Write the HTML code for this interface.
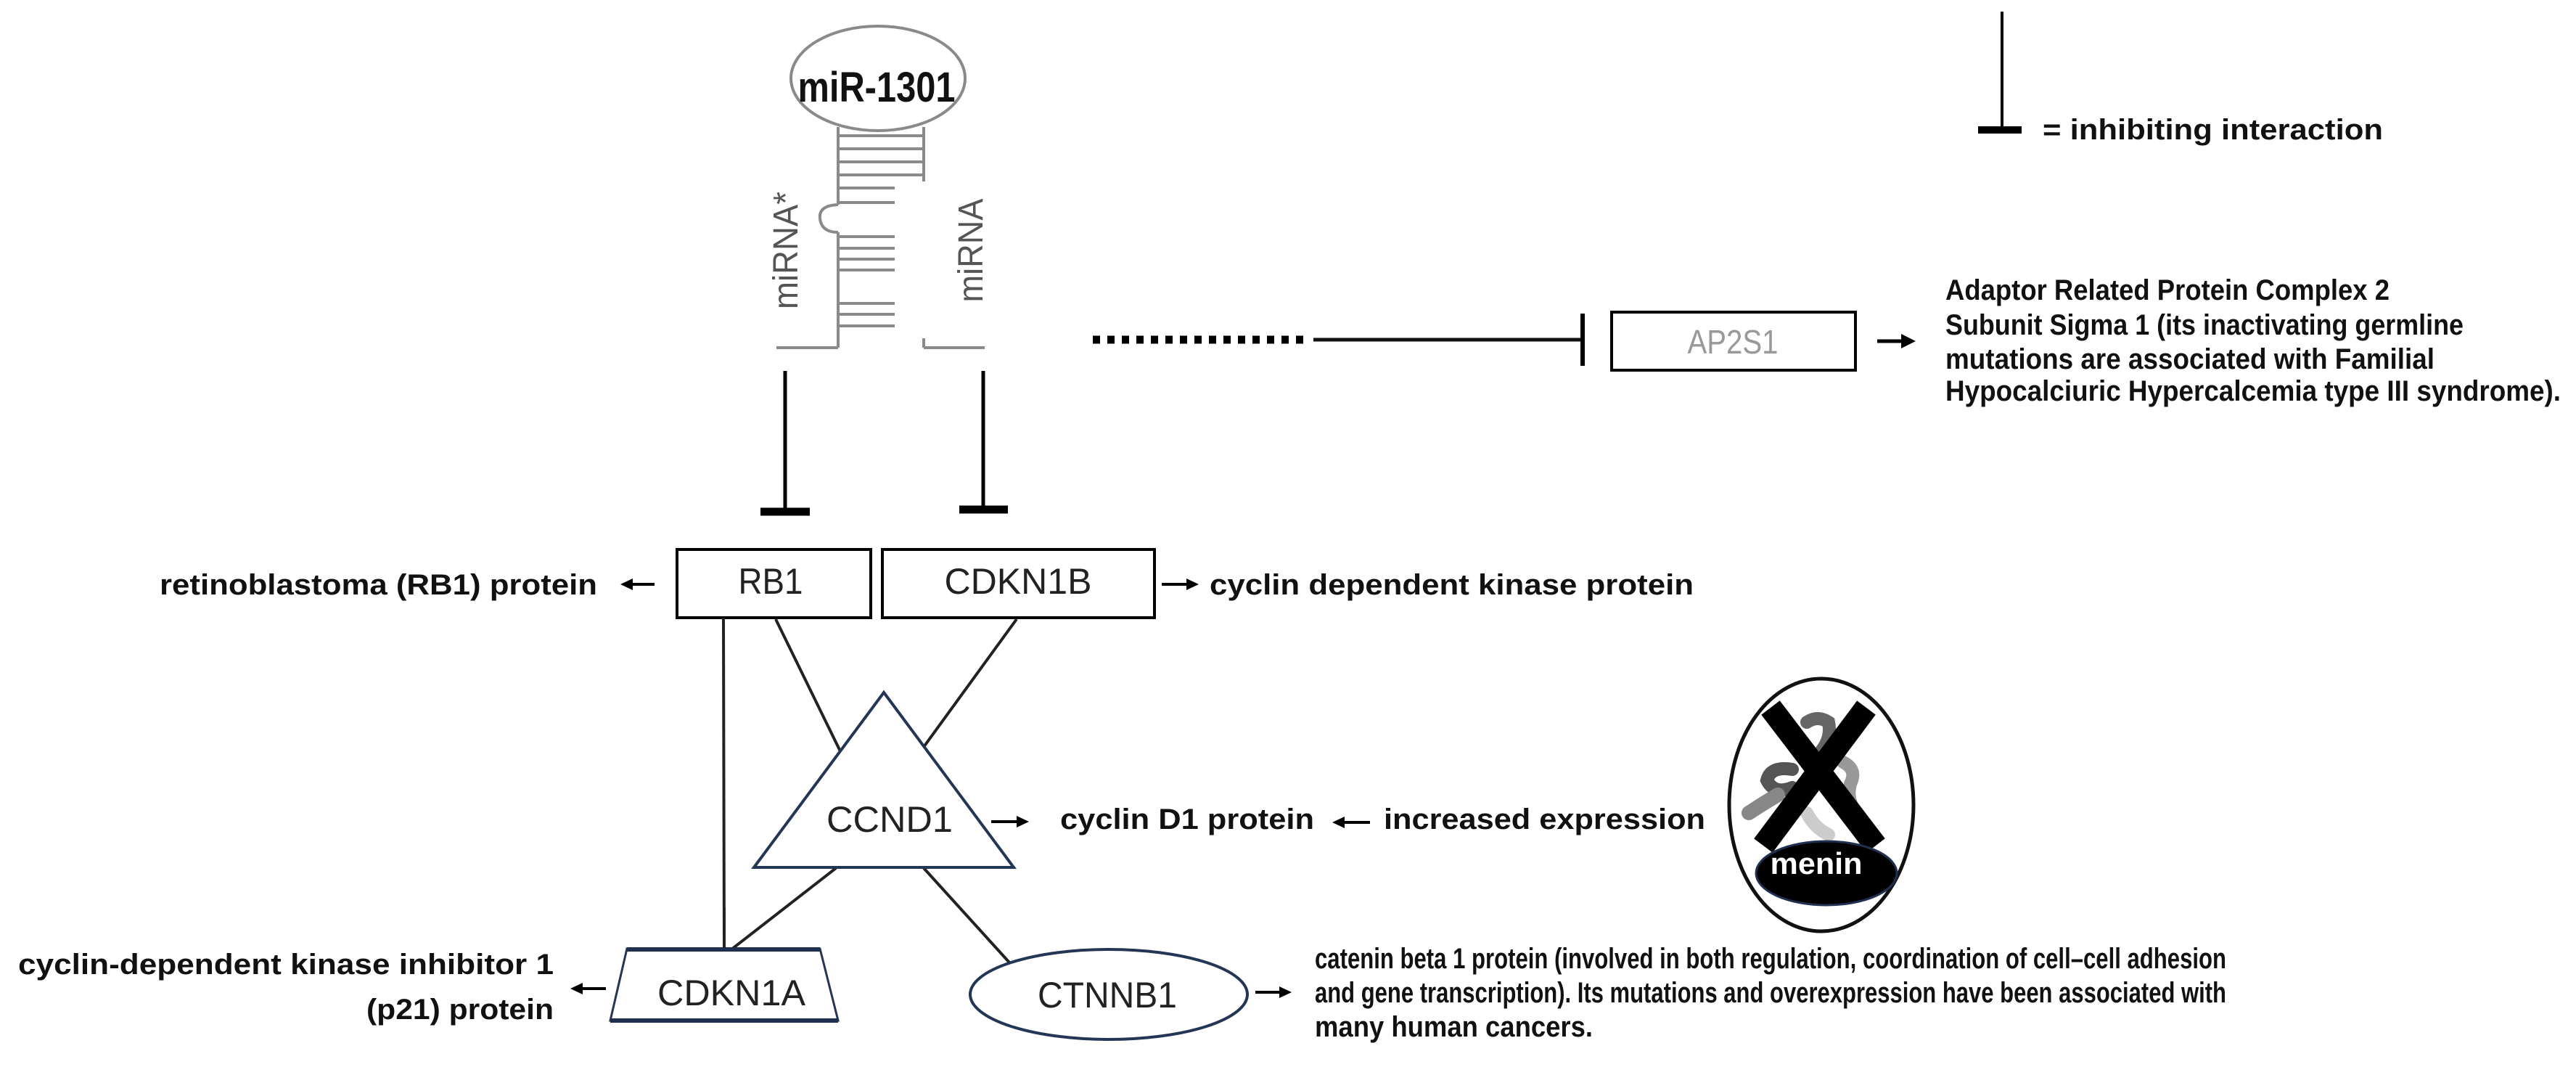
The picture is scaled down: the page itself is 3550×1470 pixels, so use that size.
<!DOCTYPE html>
<html><head><meta charset="utf-8"><style>
html,body{margin:0;padding:0;background:#fff;}
svg{display:block;}
text{font-family:"Liberation Sans",Arial,sans-serif;}
.b{font-weight:bold;fill:#111;font-size:40px;}
.n{fill:#222;font-size:50px;}
</style></head><body>
<svg width="3550" height="1470" viewBox="0 0 3550 1470" xmlns="http://www.w3.org/2000/svg">
<rect width="3550" height="1470" fill="#fff"/>

<!-- miR-1301 hairpin -->
<g stroke="#8a8a8a" stroke-width="4" fill="none">
<ellipse cx="1210" cy="108" rx="120" ry="72"/>
<line x1="1155" y1="175" x2="1155" y2="282"/>
<path d="M1155 282 Q1128 283 1130 301 Q1132 320 1155 320"/>
<line x1="1155" y1="320" x2="1155" y2="479"/>
<line x1="1273" y1="175" x2="1273" y2="250"/>
<line x1="1273" y1="466" x2="1273" y2="479"/>
<line x1="1070" y1="479" x2="1155" y2="479"/>
<line x1="1273" y1="479" x2="1357" y2="479"/>
<line x1="1155" y1="187" x2="1273" y2="187"/>
<line x1="1155" y1="205" x2="1273" y2="205"/>
<line x1="1155" y1="223" x2="1273" y2="223"/>
<line x1="1155" y1="241" x2="1273" y2="241"/>
<line x1="1155" y1="259" x2="1233" y2="259"/>
<line x1="1155" y1="279" x2="1233" y2="279"/>
<line x1="1155" y1="326" x2="1233" y2="326"/>
<line x1="1155" y1="342" x2="1233" y2="342"/>
<line x1="1155" y1="357" x2="1233" y2="357"/>
<line x1="1155" y1="372" x2="1233" y2="372"/>
<line x1="1155" y1="418" x2="1233" y2="418"/>
<line x1="1155" y1="433" x2="1233" y2="433"/>
<line x1="1155" y1="449" x2="1233" y2="449"/>
</g>
<text x="1208" y="140" text-anchor="middle" font-weight="bold" font-size="58" fill="#111" textLength="217" lengthAdjust="spacingAndGlyphs">miR-1301</text>
<text transform="translate(1099,345) rotate(-90)" text-anchor="middle" font-size="48" fill="#555" textLength="162" lengthAdjust="spacingAndGlyphs">miRNA*</text>
<text transform="translate(1354,345) rotate(-90)" text-anchor="middle" font-size="48" fill="#555" textLength="143" lengthAdjust="spacingAndGlyphs">miRNA</text>

<!-- inhibition lines from miRNA -->
<g stroke="#000">
<line x1="1082" y1="511" x2="1082" y2="705" stroke-width="5"/>
<line x1="1048" y1="705" x2="1116" y2="705" stroke-width="11"/>
<line x1="1355" y1="511" x2="1355" y2="702" stroke-width="5"/>
<line x1="1322" y1="702" x2="1389" y2="702" stroke-width="11"/>
</g>

<!-- legend -->
<line x1="2759" y1="16" x2="2759" y2="179" stroke="#000" stroke-width="4"/>
<line x1="2726" y1="179" x2="2786" y2="179" stroke="#000" stroke-width="10"/>
<text x="2815" y="192" class="b" textLength="469" lengthAdjust="spacingAndGlyphs">= inhibiting interaction</text>

<!-- AP2S1 -->
<line x1="1506" y1="468" x2="1800" y2="468" stroke="#000" stroke-width="11" stroke-dasharray="10 10"/>
<line x1="1810" y1="468" x2="2181" y2="468" stroke="#111" stroke-width="5"/>
<line x1="2181" y1="432" x2="2181" y2="504" stroke="#000" stroke-width="6"/>
<rect x="2221" y="430" width="336" height="80" fill="none" stroke="#000" stroke-width="4"/>
<text x="2388" y="487" text-anchor="middle" font-size="46" fill="#999" textLength="125" lengthAdjust="spacingAndGlyphs">AP2S1</text>
<line x1="2587" y1="470" x2="2625" y2="470" stroke="#000" stroke-width="5"/>
<polygon points="2640,470 2620,460 2620,480" fill="#000"/>
<text x="2681" y="413" class="b" textLength="612" lengthAdjust="spacingAndGlyphs">Adaptor Related Protein Complex 2</text>
<text x="2681" y="461" class="b" textLength="714" lengthAdjust="spacingAndGlyphs">Subunit Sigma 1 (its inactivating germline</text>
<text x="2681" y="508" class="b" textLength="674" lengthAdjust="spacingAndGlyphs">mutations are associated with Familial</text>
<text x="2681" y="552" class="b" textLength="848" lengthAdjust="spacingAndGlyphs">Hypocalciuric Hypercalcemia type III syndrome).</text>

<!-- RB1 / CDKN1B boxes -->
<rect x="933" y="757" width="267" height="94" fill="#fff" stroke="#000" stroke-width="4"/>
<text x="1062" y="818" text-anchor="middle" class="n" textLength="89" lengthAdjust="spacingAndGlyphs">RB1</text>
<rect x="1216" y="757" width="375" height="94" fill="#fff" stroke="#000" stroke-width="4"/>
<text x="1403" y="818" text-anchor="middle" class="n" textLength="203" lengthAdjust="spacingAndGlyphs">CDKN1B</text>

<text x="823" y="819" text-anchor="end" class="b" textLength="603" lengthAdjust="spacingAndGlyphs">retinoblastoma (RB1) protein</text>
<line x1="868" y1="805" x2="902" y2="805" stroke="#000" stroke-width="4"/>
<polygon points="855,805 872,797 872,813" fill="#000"/>

<line x1="1601" y1="805" x2="1638" y2="805" stroke="#000" stroke-width="4"/>
<polygon points="1652,805 1635,797 1635,813" fill="#000"/>
<text x="1667" y="819" class="b" textLength="667" lengthAdjust="spacingAndGlyphs">cyclin dependent kinase protein</text>

<!-- connector lines -->
<g stroke="#222" stroke-width="4">
<line x1="997" y1="851" x2="998" y2="1308"/>
<line x1="1069" y1="853" x2="1158" y2="1035"/>
<line x1="1401" y1="853" x2="1273" y2="1029"/>
<line x1="1152" y1="1196" x2="1008" y2="1308"/>
<line x1="1273" y1="1196" x2="1391" y2="1326"/>
</g>

<!-- CCND1 triangle -->
<polygon points="1218,954 1397,1195 1039,1195" fill="none" stroke="#243656" stroke-width="4"/>
<text x="1226" y="1146" text-anchor="middle" class="n" textLength="174" lengthAdjust="spacingAndGlyphs">CCND1</text>
<line x1="1366" y1="1132" x2="1404" y2="1132" stroke="#000" stroke-width="4"/>
<polygon points="1418,1132 1401,1124 1401,1140" fill="#000"/>
<text x="1461" y="1142" class="b" textLength="350" lengthAdjust="spacingAndGlyphs">cyclin D1 protein</text>
<line x1="1850" y1="1133" x2="1888" y2="1133" stroke="#000" stroke-width="4"/>
<polygon points="1836,1133 1853,1125 1853,1141" fill="#000"/>
<text x="1907" y="1142" class="b" textLength="443" lengthAdjust="spacingAndGlyphs">increased expression</text>

<!-- CDKN1A -->
<polygon points="864,1307 1130,1307 1155,1406 841,1406" fill="#fff" stroke="#243656" stroke-width="3"/>
<line x1="864" y1="1308" x2="1130" y2="1308" stroke="#1f3050" stroke-width="6"/>
<line x1="841" y1="1406" x2="1155" y2="1406" stroke="#1f3050" stroke-width="6"/>
<line x1="998" y1="1250" x2="998" y2="1306" stroke="#222" stroke-width="4"/>
<text x="1008" y="1385" text-anchor="middle" class="n" textLength="204" lengthAdjust="spacingAndGlyphs">CDKN1A</text>
<text x="763" y="1342" text-anchor="end" class="b" textLength="738" lengthAdjust="spacingAndGlyphs">cyclin-dependent kinase inhibitor 1</text>
<text x="763" y="1404" text-anchor="end" class="b" textLength="258" lengthAdjust="spacingAndGlyphs">(p21) protein</text>
<line x1="800" y1="1362" x2="835" y2="1362" stroke="#000" stroke-width="4"/>
<polygon points="786,1362 803,1354 803,1370" fill="#000"/>

<!-- CTNNB1 -->
<ellipse cx="1528" cy="1370" rx="191" ry="62" fill="#fff" stroke="#243656" stroke-width="4"/>
<text x="1526" y="1388" text-anchor="middle" class="n" textLength="192" lengthAdjust="spacingAndGlyphs">CTNNB1</text>
<line x1="1730" y1="1367" x2="1766" y2="1367" stroke="#000" stroke-width="4"/>
<polygon points="1780,1367 1763,1359 1763,1375" fill="#000"/>
<text x="1812" y="1334" class="b" textLength="1256" lengthAdjust="spacingAndGlyphs">catenin beta 1 protein (involved in both regulation, coordination of cell–cell adhesion</text>
<text x="1812" y="1381" class="b" textLength="1256" lengthAdjust="spacingAndGlyphs">and gene transcription). Its mutations and overexpression have been associated with</text>
<text x="1812" y="1428" class="b" textLength="383" lengthAdjust="spacingAndGlyphs">many human cancers.</text>

<!-- menin -->
<ellipse cx="2510" cy="1109" rx="127" ry="174" fill="#fff" stroke="#111" stroke-width="5"/>
<g fill="none" stroke-linecap="round">
<path d="M2490 995 Q2505 985 2520 995 Q2525 1020 2505 1040" stroke="#666" stroke-width="18"/>
<path d="M2470 1060 Q2440 1055 2435 1075 Q2445 1095 2470 1085" stroke="#555" stroke-width="18"/>
<path d="M2450 1095 Q2425 1110 2410 1120" stroke="#888" stroke-width="20"/>
<path d="M2540 1050 Q2560 1060 2550 1080 Q2545 1100 2555 1115" stroke="#999" stroke-width="18"/>
<path d="M2490 1120 Q2500 1140 2520 1150" stroke="#ccc" stroke-width="18"/>
</g>
<g stroke="#000" stroke-width="32" stroke-linecap="butt">
<line x1="2440" y1="975" x2="2585" y2="1165"/>
<line x1="2572" y1="975" x2="2430" y2="1165"/>
</g>
<ellipse cx="2517" cy="1203" rx="97" ry="44" fill="#000" stroke="#1f3050" stroke-width="3"/>
<text x="2503" y="1204" text-anchor="middle" font-weight="bold" font-size="42" fill="#fff" textLength="127" lengthAdjust="spacingAndGlyphs">menin</text>
</svg>
</body></html>
